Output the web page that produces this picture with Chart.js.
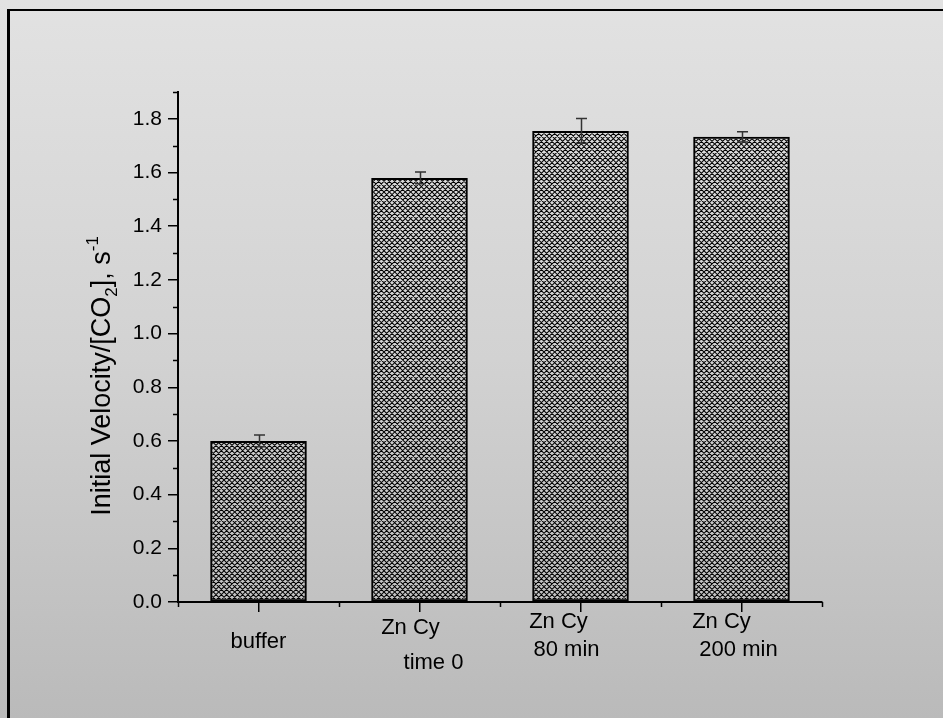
<!DOCTYPE html>
<html>
<head>
<meta charset="utf-8">
<script src="https://cdn.jsdelivr.net/npm/chart.js@4/dist/chart.umd.min.js"></script>
<style>
  html, body { margin: 0; padding: 0; }
  body {
    width: 943px; height: 718px; overflow: hidden; position: relative;
    background: linear-gradient(to bottom, #e2e2e2 0%, #d2d2d2 50%, #bababa 100%);
  }
  #frame {
    position: absolute; left: 7px; top: 9px; width: 960px; height: 740px;
    border-top: 2px solid #000; border-left: 3px solid #000;
  }
  #wrap { position: absolute; left: 0; top: 0; width: 943px; height: 718px; }
</style>
</head>
<body>
<div id="frame"></div>
<div id="wrap"><canvas id="chart" width="943" height="718"></canvas></div>
<script>
// Samples and measured initial velocities (normalised by CO2 concentration)
const categories = ['buffer', 'Zn Cy time 0', 'Zn Cy 80 min', 'Zn Cy 200 min'];
const categoryLabelLines = [['buffer'], ['Zn Cy', 'time 0'], ['Zn Cy', '80 min'], ['Zn Cy', '200 min']];
const velocity = [0.60, 1.58, 1.755, 1.733];
const velocityError = [0.022, 0.022, 0.046, 0.019];
const yAxisMax = 1.9;
const yMajorStep = 0.2;
const yMinorStep = 0.1;

const FONT = '"Liberation Sans", Arial, Helvetica, sans-serif';

// Per-line placement of the category captions
// (dx relative to the category centre, dy = text middle below the axis line)
const captionLayout = [
  [{ dx: 0, dy: 40 }],
  [{ dx: -9, dy: 26 }, { dx: 14, dy: 61 }],
  [{ dx: -22, dy: 20 }, { dx: -14, dy: 48 }],
  [{ dx: -20, dy: 20 }, { dx: -3, dy: 48 }]
];

// Cross-hatch fill for the bars
function crossHatch() {
  const s = 16, n = 3, p = s / n;
  const c = document.createElement('canvas');
  c.width = s; c.height = s;
  const g = c.getContext('2d');
  g.strokeStyle = '#000';
  g.lineWidth = 1.05;
  g.beginPath();
  for (let k = -n; k <= n; k++) {
    g.moveTo(k * p, 0); g.lineTo(k * p + s, s);
    g.moveTo(k * p + s, 0); g.lineTo(k * p, s);
  }
  g.stroke();
  return g.createPattern(c, 'repeat');
}

const isMinor = v => Math.round(v / yMinorStep) % 2 === 1;

const decorations = {
  id: 'decorations',
  afterDatasetsDraw(chart) {
    const { ctx, scales: { x, y } } = chart;
    ctx.save();
    // error bars
    ctx.strokeStyle = '#333';
    ctx.lineWidth = 1.5;
    velocity.forEach((v, i) => {
      const px = Math.round(x.getPixelForValue(i)) + 0.5;
      const top = y.getPixelForValue(v + velocityError[i]);
      const bot = y.getPixelForValue(v - velocityError[i]);
      ctx.beginPath();
      ctx.moveTo(px, top); ctx.lineTo(px, bot);
      ctx.moveTo(px - 5.5, top); ctx.lineTo(px + 5.5, top);
      ctx.moveTo(px - 5.5, bot); ctx.lineTo(px + 5.5, bot);
      ctx.stroke();
    });
    ctx.restore();
  },
  afterDraw(chart) {
    const { ctx, scales: { x, y }, chartArea } = chart;
    ctx.save();
    ctx.strokeStyle = '#000';
    ctx.lineWidth = 1.5;
    // minor ticks on the value axis
    for (let v = yMinorStep; v <= yAxisMax + 1e-9; v += yMajorStep) {
      const py = Math.round(y.getPixelForValue(v)) + 0.5;
      ctx.beginPath();
      ctx.moveTo(chartArea.left - 5, py); ctx.lineTo(chartArea.left, py);
      ctx.stroke();
    }
    // minor ticks between categories
    for (let i = 0; i <= categories.length; i++) {
      const px = Math.round(x.getPixelForValue(i - 0.5)) + 0.5;
      ctx.beginPath();
      ctx.moveTo(px, chartArea.bottom); ctx.lineTo(px, chartArea.bottom + 5);
      ctx.stroke();
    }
    // category captions
    ctx.fillStyle = '#000';
    ctx.font = '22px ' + FONT;
    ctx.textAlign = 'center';
    ctx.textBaseline = 'middle';
    categoryLabelLines.forEach((lines, i) => {
      const cx = x.getPixelForValue(i);
      lines.forEach((t, j) => {
        const L = captionLayout[i][j];
        ctx.fillText(t, cx + L.dx, chartArea.bottom + L.dy);
      });
    });
    // value axis title with sub- and superscripts
    const parts = [
      { t: 'Initial Velocity/[CO', size: 27, shift: 0 },
      { t: '2', size: 17, shift: 7 },
      { t: '], s', size: 27, shift: 0 },
      { t: '-1', size: 17, shift: -12 }
    ];
    let total = 0;
    parts.forEach(p => { ctx.font = p.size + 'px ' + FONT; p.w = ctx.measureText(p.t).width; total += p.w; });
    const midY = (chartArea.top + chartArea.bottom) / 2 + 29;
    ctx.translate(110, midY);
    ctx.rotate(-Math.PI / 2);
    ctx.textAlign = 'left';
    ctx.textBaseline = 'alphabetic';
    let cur = -total / 2;
    parts.forEach(p => {
      ctx.font = p.size + 'px ' + FONT;
      ctx.fillText(p.t, cur, p.shift);
      cur += p.w;
    });
    ctx.restore();
  }
};

new Chart(document.getElementById('chart'), {
  type: 'bar',
  data: {
    labels: categories,
    datasets: [{
      data: velocity,
      backgroundColor: crossHatch(),
      borderColor: '#000',
      borderWidth: 2,
      borderSkipped: false,
      barPercentage: 0.6,
      categoryPercentage: 1.0
    }]
  },
  options: {
    responsive: false,
    animation: false,
    devicePixelRatio: 1,
    layout: { padding: { left: 0, top: 92, right: 121, bottom: 0 } },
    plugins: { legend: { display: false }, tooltip: { enabled: false } },
    scales: {
      x: {
        offset: true,
        grid: { display: true, drawOnChartArea: false, offset: false, tickLength: 10, color: '#000', lineWidth: 1.5 },
        border: { display: true, color: '#000', width: 2 },
        ticks: { display: false },
        afterFit(scale) { scale.height = 116; }
      },
      y: {
        min: 0,
        max: yAxisMax,
        grid: {
          display: true, drawOnChartArea: false, tickLength: 10, lineWidth: 1.5,
          color: c => (c.tick && isMinor(c.tick.value)) ? 'rgba(0,0,0,0)' : '#000'
        },
        border: { display: true, color: '#000', width: 2 },
        ticks: {
          stepSize: yMinorStep,
          autoSkip: false,
          padding: 6,
          color: '#000',
          font: { family: FONT, size: 21 },
          callback: v => isMinor(v) ? '' : v.toFixed(1)
        },
        afterFit(scale) { scale.width = 178; }
      }
    }
  },
  plugins: [decorations]
});
</script>
</body>
</html>
